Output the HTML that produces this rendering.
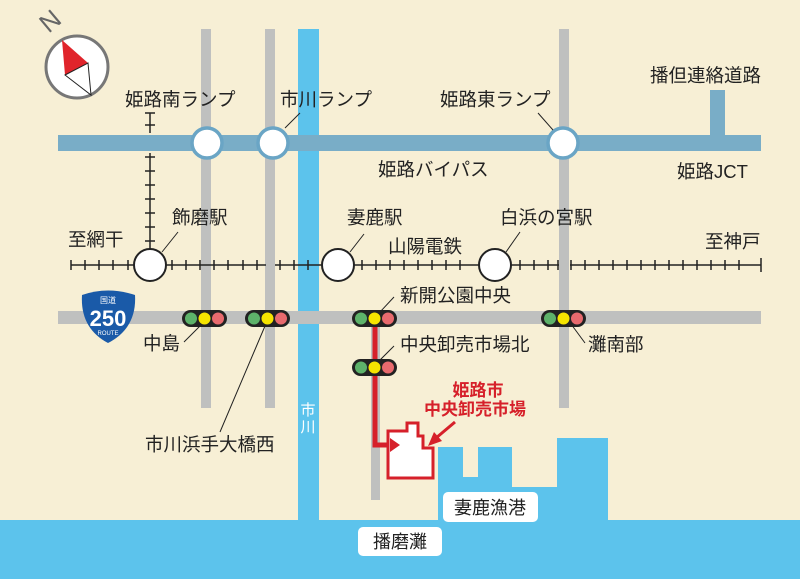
<!DOCTYPE html>
<html><head><meta charset="utf-8"><style>
html,body{margin:0;padding:0;background:#f7efd5;}
svg{display:block}
text{font-family:"Liberation Sans","Noto Sans CJK JP",sans-serif;}
</style></head><body>
<svg width="800" height="579" viewBox="0 0 800 579" xmlns="http://www.w3.org/2000/svg">
<rect width="800" height="579" fill="#f7efd5"/>
<!-- water -->
<rect x="298" y="29" width="21" height="500" fill="#5cc3ec"/>
<polygon points="0,520 438,520 438,447 463,447 463,477 478,477 478,447 512,447 512,487 557,487 557,438 608,438 608,520 800,520 800,579 0,579" fill="#5cc3ec"/>
<!-- gray roads -->
<g fill="#bfc0bf">
<rect x="201" y="29" width="10" height="379"/>
<rect x="265" y="29" width="10" height="379"/>
<rect x="559" y="29" width="10" height="379"/>
<rect x="371" y="320" width="9" height="180"/>
<rect x="58" y="311" width="703" height="13"/>
</g>
<!-- expressway -->
<rect x="58" y="135" width="703" height="16" fill="#79adc7"/>
<rect x="710" y="90" width="15" height="46" fill="#79adc7"/>
<!-- railway -->
<g stroke="#222" stroke-width="1.5" fill="none">
<line x1="71" y1="265" x2="266" y2="265"/>
<line x1="275" y1="265" x2="559" y2="265"/>
<line x1="570" y1="265" x2="761" y2="265"/>
<line x1="150" y1="113" x2="150" y2="133"/>
<line x1="150" y1="153" x2="150" y2="265"/>
<line x1="145" y1="113" x2="155" y2="113"/>
<line x1="145" y1="125" x2="155" y2="125"/>
<line x1="145" y1="157" x2="155" y2="157"/>
<line x1="145" y1="171" x2="155" y2="171"/>
<line x1="145" y1="185" x2="155" y2="185"/>
<line x1="145" y1="199" x2="155" y2="199"/>
<line x1="145" y1="213" x2="155" y2="213"/>
<line x1="145" y1="227" x2="155" y2="227"/>
<line x1="145" y1="241" x2="155" y2="241"/>
</g>
<g stroke="#222" stroke-width="1.5">
<path d="M71 260v10M85 260v10M99 260v10M113 260v10M128 260v10M172 260v10M186 260v10M200 260v10M214 260v10M228 260v10M243 260v10M257 260v10M280 260v10M294 260v10M308 260v10M362 260v10M376 260v10M390 260v10M404 260v10M418 260v10M432 260v10M446 260v10M460 260v10M520 260v10M534 260v10M548 260v10M558 260v10M571 260v10M585 260v10M599 260v10M613 260v10M627 260v10M641 260v10M655 260v10M669 260v10M683 260v10M697 260v10M711 260v10M725 260v10M739 260v10M761 258v14"/>
</g>
<!-- stations -->
<g fill="#fff" stroke="#222" stroke-width="2">
<circle cx="150" cy="265" r="16"/>
<circle cx="338" cy="265" r="16"/>
<circle cx="495" cy="265" r="16"/>
</g>
<!-- ramps -->
<g fill="#fff" stroke="#6aa5c5" stroke-width="3.5">
<circle cx="207" cy="143" r="15"/>
<circle cx="273" cy="143" r="15"/>
<circle cx="563" cy="143" r="15"/>
</g>
<!-- leader lines -->
<g stroke="#222" stroke-width="1" fill="none">
<line x1="285" y1="128" x2="300" y2="113"/>
<line x1="553" y1="130" x2="538" y2="113"/>
<line x1="162" y1="252" x2="178" y2="232"/>
<line x1="350" y1="252" x2="364" y2="234"/>
<line x1="506" y1="252" x2="520" y2="232"/>
<line x1="380" y1="312" x2="394" y2="297"/>
<line x1="380" y1="360" x2="394" y2="346"/>
<line x1="571" y1="324" x2="585" y2="343"/>
<line x1="200" y1="326" x2="184" y2="342"/>
<line x1="265" y1="326" x2="220" y2="432"/>
</g>
<!-- traffic lights -->
<g>
<g transform="translate(182,310)"><rect width="45" height="17" rx="8.5" fill="#222"/><circle cx="9" cy="8.5" r="6" fill="#5db26a"/><circle cx="22.5" cy="8.5" r="6" fill="#f5e400"/><circle cx="36" cy="8.5" r="6" fill="#e86a6e"/></g>
<g transform="translate(245,310)"><rect width="45" height="17" rx="8.5" fill="#222"/><circle cx="9" cy="8.5" r="6" fill="#5db26a"/><circle cx="22.5" cy="8.5" r="6" fill="#f5e400"/><circle cx="36" cy="8.5" r="6" fill="#e86a6e"/></g>
<g transform="translate(352,310)"><rect width="45" height="17" rx="8.5" fill="#222"/><circle cx="9" cy="8.5" r="6" fill="#5db26a"/><circle cx="22.5" cy="8.5" r="6" fill="#f5e400"/><circle cx="36" cy="8.5" r="6" fill="#e86a6e"/></g>
<g transform="translate(541,310)"><rect width="45" height="17" rx="8.5" fill="#222"/><circle cx="9" cy="8.5" r="6" fill="#5db26a"/><circle cx="22.5" cy="8.5" r="6" fill="#f5e400"/><circle cx="36" cy="8.5" r="6" fill="#e86a6e"/></g>
</g>
<!-- red route -->
<polyline points="375,327 375,445 392,445" fill="none" stroke="#d6202a" stroke-width="5"/>
<g transform="translate(352,359)"><rect width="45" height="17" rx="8.5" fill="#222"/><circle cx="9" cy="8.5" r="6" fill="#5db26a"/><circle cx="22.5" cy="8.5" r="6" fill="#f5e400"/><circle cx="36" cy="8.5" r="6" fill="#e86a6e"/></g>
<polygon points="388,431 407,431 407,423 418,423 418,436 423,436 423,448 433,448 433,478 388,478" fill="#fff" stroke="#d6202a" stroke-width="3"/>
<polygon points="390,438 400,445 390,452" fill="#d6202a"/>
<line x1="455" y1="422" x2="436" y2="438" stroke="#d6202a" stroke-width="3"/>
<polygon points="428,446 434,432 442,441" fill="#d6202a"/>
<!-- route shield -->
<path d="M82,295 Q108,286 135,295 Q137,328 108,343 Q80,328 82,295 Z" fill="#1a5aa8"/>
<text x="108" y="303" font-size="8" fill="#fff" text-anchor="middle">国道</text>
<text x="108" y="326" font-size="22" font-weight="bold" fill="#fff" text-anchor="middle">250</text>
<text x="108" y="335" font-size="6" fill="#fff" text-anchor="middle">ROUTE</text>
<!-- compass -->
<circle cx="77" cy="67" r="31" fill="#fff" stroke="#777" stroke-width="3"/>
<polygon points="62,40 88,63 65,75" fill="#e0242b"/>
<polygon points="65,75 88,63 91,95" fill="#fff" stroke="#222" stroke-width="1"/>
<text x="50" y="30" font-size="26" fill="#666" transform="rotate(-40 50 21)" text-anchor="middle">N</text>
<!-- labels -->
<g font-size="18.5" fill="#222">
<text x="125" y="106">姫路南ランプ</text>
<text x="280" y="106">市川ランプ</text>
<text x="440" y="106">姫路東ランプ</text>
<text x="650" y="82">播但連絡道路</text>
<text x="378" y="176">姫路バイパス</text>
<text x="677" y="178">姫路JCT</text>
<text x="172" y="224">飾磨駅</text>
<text x="68" y="246">至網干</text>
<text x="347" y="224">妻鹿駅</text>
<text x="500" y="224">白浜の宮駅</text>
<text x="388" y="253">山陽電鉄</text>
<text x="705" y="248">至神戸</text>
<text x="400" y="302">新開公園中央</text>
<text x="143" y="350">中島</text>
<text x="400" y="351">中央卸売市場北</text>
<text x="588" y="351">灘南部</text>
<text x="145" y="451">市川浜手大橋西</text>
</g>
<text x="308" y="415" font-size="15" fill="#fff" text-anchor="middle">市</text>
<text x="308" y="432" font-size="15" fill="#fff" text-anchor="middle">川</text>
<g font-size="17" font-weight="bold" fill="#d6202a" text-anchor="middle">
<text x="478" y="396">姫路市</text>
<text x="475" y="415">中央卸売市場</text>
</g>
<rect x="443" y="492" width="95" height="30" rx="5" fill="#fff"/>
<text x="490" y="514" font-size="18" fill="#222" text-anchor="middle">妻鹿漁港</text>
<rect x="358" y="527" width="84" height="29" rx="5" fill="#fff"/>
<text x="400" y="548" font-size="18" fill="#222" text-anchor="middle">播磨灘</text>
</svg>
</body></html>
